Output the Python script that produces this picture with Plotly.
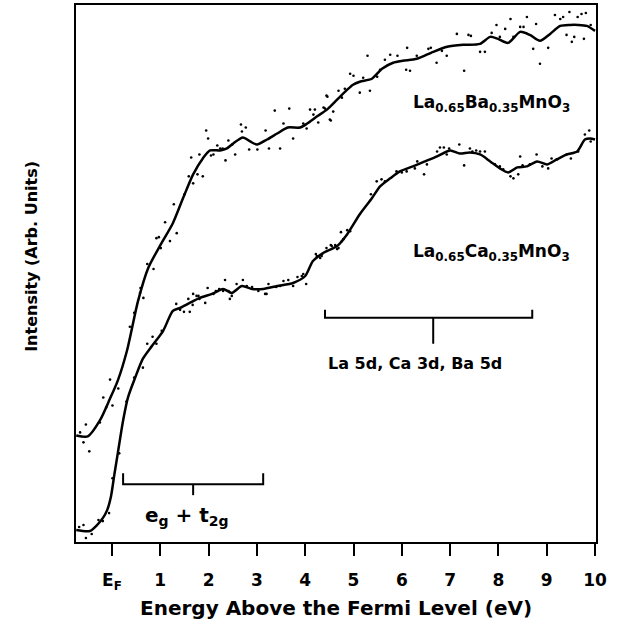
import plotly.graph_objects as go

# ---- smoothed curves (energy in eV, intensity in arbitrary units) ----
ba_curve_x = [-0.74, -0.50, -0.25, -0.04, 0.12, 0.31, 0.54, 0.75, 0.99, 1.26, 1.47, 1.68, 1.88,
              2.03, 2.24, 2.38, 2.51, 2.71, 2.86, 3.00, 3.21, 3.42, 3.64, 3.89, 4.04, 4.24, 4.45,
              4.66, 4.87, 4.99, 5.13, 5.38, 5.59, 5.82, 6.02, 6.31, 6.65, 6.94, 7.27, 7.62, 7.83,
              7.99, 8.20, 8.45, 8.65, 8.86, 9.07, 9.28, 9.48, 9.65, 9.83, 10.0]
ba_curve_y = [10.7, 10.6, 12.2, 14.4, 16.2, 19.2, 24.2, 27.5, 29.7, 32.0, 34.5, 36.9, 38.5,
              39.3, 39.3, 39.5, 40.0, 40.6, 40.2, 39.9, 40.4, 41.0, 41.6, 41.6, 42.0, 42.7, 43.4,
              44.4, 45.4, 45.9, 46.2, 46.5, 47.5, 48.1, 48.3, 48.5, 49.2, 49.7, 49.9, 50.0, 50.7,
              50.5, 50.1, 51.2, 50.9, 50.3, 51.0, 51.8, 51.9, 51.9, 51.8, 51.3]

ca_curve_x = [-0.74, -0.46, -0.31, -0.19, -0.10, -0.02, 0.05, 0.12, 0.23, 0.33, 0.48, 0.64, 0.83,
              1.06, 1.26, 1.41, 1.61, 1.82, 2.07, 2.30, 2.48, 2.69, 2.90, 3.13, 3.42, 3.75, 4.00,
              4.16, 4.37, 4.66, 4.87, 5.13, 5.38, 5.55, 5.76, 5.96, 6.23, 6.48, 6.73, 7.00, 7.20,
              7.41, 7.62, 7.83, 8.03, 8.20, 8.39, 8.59, 8.80, 9.01, 9.21, 9.42, 9.63, 9.79, 9.90,
              10.0]
ca_curve_y = [1.2, 1.1, 1.7, 2.4, 3.2, 4.6, 6.8, 8.9, 12.2, 14.5, 16.5, 18.4, 19.7,
              21.2, 23.2, 23.5, 24.0, 24.5, 24.9, 25.4, 25.0, 25.7, 25.4, 25.4, 25.7, 26.0, 26.7,
              28.2, 29.0, 29.7, 30.9, 32.9, 34.5, 35.7, 36.5, 37.2, 37.7, 38.2, 38.7, 39.3, 39.0,
              39.1, 38.9, 38.2, 37.5, 37.1, 37.6, 37.7, 38.2, 37.9, 38.4, 38.9, 39.2, 40.4, 40.5,
              40.4]

# ---- raw data points ----
ba_pts_x = [-0.66, -0.59, -0.54, -0.47, -0.25, -0.18, -0.12, -0.04, 0.01, 0.13, 0.37, 0.46, 0.58,
            0.59, 0.65, 0.73, 0.86, 0.92, 0.97, 1.01, 1.10, 1.20, 1.28, 1.34, 1.50, 1.59, 1.64,
            1.68, 1.77, 1.81, 1.88, 1.95, 1.99, 2.05, 2.10, 2.18, 2.24, 2.29, 2.35, 2.41, 2.49,
            2.55, 2.67, 2.69, 2.77, 2.84, 3.01, 3.18, 3.25, 3.37, 3.48, 3.55, 3.67, 3.75, 3.96,
            4.03, 4.10, 4.17, 4.20, 4.27, 4.38, 4.41, 4.44, 4.46, 4.51, 4.53, 4.58, 4.69, 4.76,
            4.82, 4.93, 5.00, 5.13, 5.20, 5.29, 5.34, 5.49, 5.55, 5.65, 5.76, 5.91, 6.09, 6.11,
            6.17, 6.31, 6.55, 6.60, 6.72, 6.83, 6.93, 7.14, 7.29, 7.38, 7.43, 7.62, 7.72, 7.86,
            7.96, 8.03, 8.14, 8.25, 8.31, 8.45, 8.52, 8.59, 8.72, 8.78, 8.86, 9.03, 9.17, 9.28,
            9.34, 9.41, 9.47, 9.52, 9.57, 9.64, 9.72, 9.77, 9.81, 9.91]
ba_pts_y = [11.0, 10.0, 11.8, 9.1, 12.0, 14.5, 13.5, 16.3, 13.7, 15.4, 21.6, 23.0, 25.0,
            25.5, 24.5, 27.9, 27.4, 30.5, 30.6, 29.5, 32.1, 30.2, 33.9, 31.0, 34.9, 36.7, 38.6,
            36.0, 36.9, 38.9, 36.7, 41.3, 40.5, 38.8, 38.9, 39.8, 39.5, 39.5, 38.3, 40.3, 39.9,
            38.9, 41.9, 41.2, 41.6, 39.4, 39.4, 41.3, 39.5, 43.3, 39.5, 42.0, 43.5, 40.5, 42.0,
            41.5, 43.4, 42.9, 43.4, 42.1, 43.6, 43.5, 44.8, 44.7, 42.4, 42.3, 43.2, 45.3, 44.6,
            45.5, 47.0, 46.8, 45.1, 46.6, 48.8, 45.3, 46.7, 47.4, 48.4, 48.9, 48.8, 47.4, 49.6,
            47.3, 48.8, 49.5, 49.6, 48.1, 49.3, 48.8, 51.0, 47.3, 50.9, 50.8, 49.2, 49.2, 51.1,
            51.9, 50.7, 51.5, 52.5, 50.7, 51.7, 51.7, 52.7, 49.5, 52.0, 48.0, 49.6, 52.9, 52.5,
            52.7, 50.9, 53.2, 50.2, 50.7, 52.7, 53.0, 50.5, 53.1, 51.9]

ca_pts_x = [-0.68, -0.59, -0.54, -0.42, -0.28, -0.19, -0.06, 0.01, 0.15, 0.30, 0.46, 0.64, 0.73,
            0.84, 0.92, 1.03, 1.33, 1.41, 1.49, 1.58, 1.61, 1.67, 1.68, 1.75, 1.79, 1.81, 1.93,
            1.98, 2.10, 2.15, 2.22, 2.30, 2.34, 2.41, 2.44, 2.48, 2.58, 2.71, 2.79, 2.90, 3.03,
            3.17, 3.20, 3.24, 3.40, 3.48, 3.55, 3.65, 3.75, 3.84, 3.93, 3.96, 4.02, 4.22, 4.24,
            4.31, 4.34, 4.44, 4.53, 4.55, 4.62, 4.66, 4.69, 4.74, 4.76, 4.79, 4.87, 4.93, 5.36,
            5.48, 5.58, 5.65, 5.89, 6.00, 6.10, 6.27, 6.32, 6.46, 6.52, 6.73, 6.79, 6.87, 6.93,
            6.98, 7.19, 7.29, 7.41, 7.46, 7.54, 7.62, 7.72, 7.93, 8.03, 8.10, 8.25, 8.31, 8.41,
            8.45, 8.50, 8.65, 8.79, 8.91, 9.03, 9.10, 9.21, 9.41, 9.50, 9.65, 9.79, 9.88, 9.91]
ca_pts_y = [1.5, 1.7, 0.4, 0.8, 2.2, 2.1, 2.9, 6.4, 8.9, 14.1, 16.5, 17.5, 19.9,
            20.6, 19.9, 21.2, 23.9, 23.3, 23.1, 24.4, 23.1, 23.8, 24.9, 24.7, 24.7, 24.4, 24.0,
            25.5, 24.9, 25.2, 25.4, 25.2, 26.3, 25.2, 24.4, 24.7, 25.9, 26.3, 25.7, 25.6, 25.2,
            24.9, 24.9, 25.9, 25.6, 25.7, 26.2, 26.3, 25.7, 26.6, 26.7, 26.9, 25.9, 28.9, 28.7,
            28.5, 28.7, 29.5, 29.8, 29.7, 29.8, 29.4, 29.5, 31.1, 30.2, 30.4, 31.3, 31.2, 34.9,
            36.2, 36.4, 36.2, 37.2, 37.1, 37.2, 37.5, 38.2, 36.9, 37.9, 39.2, 39.6, 39.6, 38.9,
            39.5, 39.9, 37.8, 39.5, 39.2, 39.3, 39.2, 39.2, 37.9, 37.7, 37.4, 36.7, 36.5, 36.9,
            38.7, 37.8, 37.9, 38.9, 37.7, 37.5, 38.5, 38.4, 38.9, 38.5, 39.2, 40.9, 41.3, 40.2]

# ---- axis ticks / labels ----
tick_vals = [0, 1, 2, 3, 4, 5, 6, 7, 8, 9, 10]
tick_text = ["E<sub>F</sub>", "1", "2", "3", "4", "5", "6", "7", "8", "9", "10"]
x_range = [-0.745, 10.02]
y_range = [0, 53.9]

# ---- annotation brackets: [left, right, level, arm height, center tick depth] ----
eg_bracket = dict(x0=0.23, x1=3.13, xc=1.68, y=5.8, yarm=6.9, ytick=4.7)
la_bracket = dict(x0=4.41, x1=8.70, xc=6.65, y=22.5, yarm=23.3, ytick=19.9)

FONT = "DejaVu Sans"
BLACK = "#000000"

fig = go.Figure()

for cx, cy, px, py in [(ba_curve_x, ba_curve_y, ba_pts_x, ba_pts_y),
                       (ca_curve_x, ca_curve_y, ca_pts_x, ca_pts_y)]:
    fig.add_trace(go.Scatter(x=px, y=py, mode="markers",
                             marker=dict(size=2.6, color=BLACK), showlegend=False,
                             hoverinfo="skip"))
    fig.add_trace(go.Scatter(x=cx, y=cy, mode="lines",
                             line=dict(color=BLACK, width=2.5, shape="spline", smoothing=0.7),
                             showlegend=False))

shapes = []
for b in (eg_bracket, la_bracket):
    shapes.append(dict(type="path", xref="x", yref="y",
                       path=f"M {b['x0']},{b['yarm']} L {b['x0']},{b['y']} L {b['x1']},{b['y']} L {b['x1']},{b['yarm']}",
                       line=dict(color=BLACK, width=2)))
    shapes.append(dict(type="line", xref="x", yref="y", x0=b["xc"], x1=b["xc"],
                       y0=b["y"], y1=b["ytick"], line=dict(color=BLACK, width=2)))

annotations = [
    dict(x=7.85, y=44.0, xref="x", yref="y", showarrow=False,
         text="La<sub>0.65</sub>Ba<sub>0.35</sub>MnO<sub>3</sub>",
         font=dict(family=FONT, size=17, color=BLACK, weight="bold")),
    dict(x=7.85, y=29.1, xref="x", yref="y", showarrow=False,
         text="La<sub>0.65</sub>Ca<sub>0.35</sub>MnO<sub>3</sub>",
         font=dict(family=FONT, size=17, color=BLACK, weight="bold")),
    dict(x=6.27, y=17.9, xref="x", yref="y", showarrow=False,
         text="La 5d, Ca 3d, Ba 5d",
         font=dict(family=FONT, size=16, color=BLACK, weight="bold")),
    dict(x=1.55, y=2.6, xref="x", yref="y", showarrow=False,
         text="e<sub>g</sub> + t<sub>2g</sub>",
         font=dict(family=FONT, size=20, color=BLACK, weight="bold")),
    dict(x=0.5, y=0, xref="paper", yref="paper", yshift=-66, showarrow=False,
         text="Energy Above the Fermi Level (eV)", yanchor="middle",
         font=dict(family=FONT, size=20, color=BLACK, weight="bold")),
    dict(x=0, y=0.531, xref="paper", yref="paper", xshift=-44, showarrow=False,
         text="Intensity (Arb. Units)", textangle=-90, xanchor="center", yanchor="middle",
         font=dict(family=FONT, size=16, color=BLACK, weight="bold")),
]

fig.update_layout(
    width=626, height=622,
    margin=dict(l=76, r=30, t=3, b=80),
    paper_bgcolor="white", plot_bgcolor="white",
    shapes=shapes, annotations=annotations,
    xaxis=dict(range=x_range, tickmode="array", tickvals=tick_vals, ticktext=tick_text,
               ticks="outside", ticklen=12, tickwidth=2, tickcolor=BLACK,
               ticklabelstandoff=10,
               showline=True, linewidth=2, linecolor=BLACK, mirror=True,
               showgrid=False, zeroline=False,
               tickfont=dict(family=FONT, size=17, color=BLACK, weight="bold")),
    yaxis=dict(range=y_range, showticklabels=False, ticks="",
               showline=True, linewidth=2, linecolor=BLACK, mirror=True,
               showgrid=False, zeroline=False),
)

fig.write_html("out.html")
